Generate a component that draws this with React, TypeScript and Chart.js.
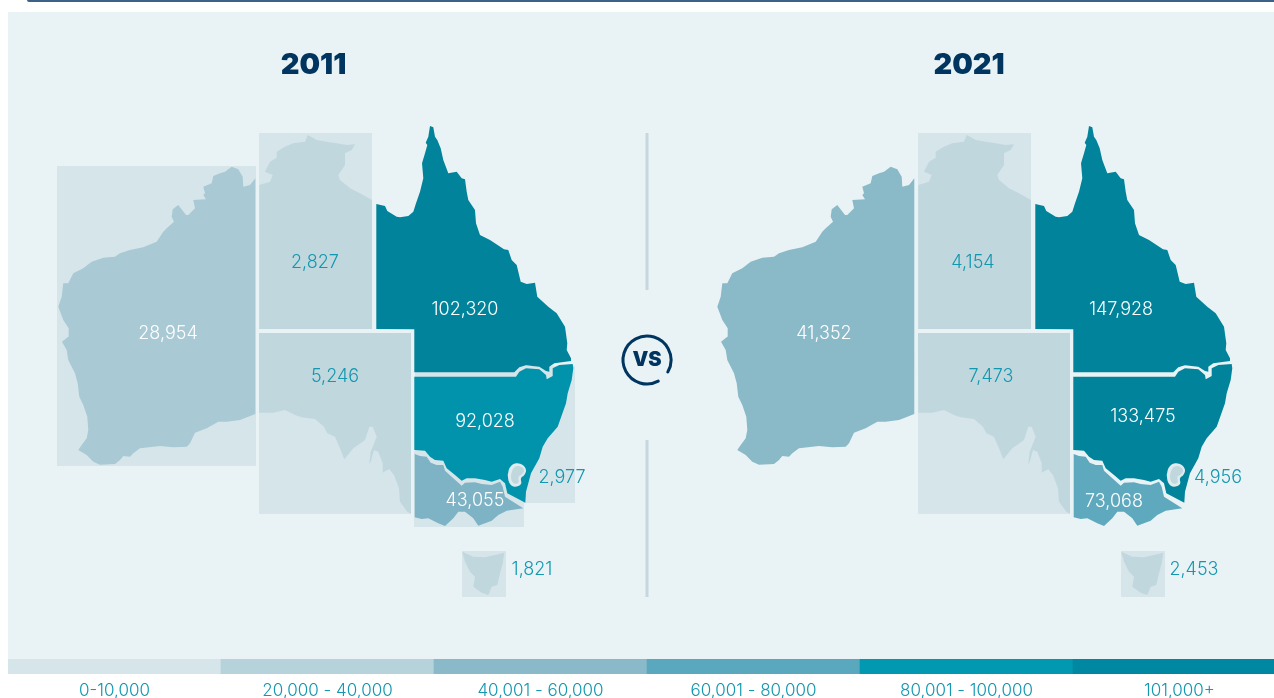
import React, { useEffect, useRef } from "react";
import { Chart, registerables } from "chart.js";

Chart.register(...registerables);

const states = ["WA", "NT", "QLD", "SA", "NSW", "VIC", "ACT", "TAS"];
const values2011 = [28954, 2827, 102320, 5246, 92028, 43055, 2977, 1821];
const values2021 = [41352, 4154, 147928, 7473, 133475, 73068, 4956, 2453];
const legendBins = ["0-10,000", "20,000 - 40,000", "40,001 - 60,000", "60,001 - 80,000", "80,001 - 100,000", "101,000+"];
const legendUnits = [1, 1, 1, 1, 1, 1];
const legendColors = ["#D5E5EA", "#B6D3DC", "#8ABACA", "#5AA8BE", "#0099B1", "#0088A3"];

type P = [number, number];
const waOutline: P[] = [[255.3,178.3],[255.3,414],[240,420],[226.7,421.7],[218.3,421.7],[206.7,428.3],[195,432.7],[190,443.3],[186.7,446.7],[173.3,447.3],[160,446],[140,448.3],[133.3,453.3],[130,456.7],[123.3,456],[120,460],[115,464],[100,464.7],[93.3,461.7],[86.7,455],[78.3,450],[81.7,445],[86.7,438.3],[88.3,430],[87.3,416.7],[83.3,405],[79.3,396.7],[77.7,383.3],[75,373.3],[68.3,360],[66.7,350],[62,341.7],[68.3,336.7],[68.7,328.3],[63.3,320],[58.3,306.7],[61.7,296.7],[63.3,283.3],[68.3,283.3],[73.3,273.3],[83.3,268.3],[91.7,261.7],[103.3,257.7],[115,256.7],[120,253.3],[130,250],[143.3,247.3],[156.7,241.7],[163.3,231.7],[166.7,228.3],[174,221.7],[171.7,216.7],[172.7,209.3],[178.3,205],[186,215],[188.3,215],[195,208.3],[193.3,200],[206,199.3],[203.3,195],[205,193.3],[203.3,186.7],[211.7,183.3],[213.3,176],[220,173.3],[225,171.7],[231.7,166.7],[238.3,169.3],[242.7,176.7],[243.3,186.7],[250,185],[255.3,178.3]];
const ntOutline: P[] = [[259.3,185],[270,181.7],[272.7,175],[265,171.7],[270,161.7],[276,158.3],[276.7,151.7],[285,146.7],[293.3,143.3],[305,141.7],[307.7,135],[316.7,140],[326.7,141.7],[336.7,143.3],[346.7,145],[355,144.3],[351.7,150],[345,153.3],[345,165],[338.3,175],[340,180],[350,188.3],[360,193.3],[372,200],[372,329],[259.3,329],[259.3,185]];
const qldOutline: P[] = [[376.3,204],[385,206],[387.3,211],[396.7,216.7],[400,217.3],[408.3,216],[413.3,211.7],[416,203.3],[420,191.7],[423.3,178.3],[422,163.3],[425,153.3],[427.3,145],[425.7,142.7],[428.3,136.7],[430,126],[433.3,127.3],[435,136.7],[437.3,140],[440.7,148.3],[443.3,160],[448.3,173.3],[456.7,171.7],[461.7,178.3],[465,179.3],[466.7,191.7],[468.3,200],[475,210],[476,223.3],[480,235],[490,240],[504,249.3],[508.3,250],[511.7,260],[516.7,265],[520.7,281.7],[526.7,284],[535,282.7],[537.3,296.7],[548.3,306.7],[556.7,313.3],[565,326.7],[567.3,343.3],[566.7,350],[571,358.3],[571,361],[554.3,363.3],[549.3,366.7],[549.3,371.7],[546,371],[539.3,366.7],[526,365.3],[519.3,367.3],[514.3,372.3],[414.3,372.3],[414.3,329.3],[376.3,329],[376.3,204]];
const saOutline: P[] = [[259,333],[411,333],[411,513.7],[407.3,511.7],[400,501.7],[399,488.3],[394,475],[389.3,469.3],[382.3,472.7],[382.7,463.3],[378.3,451.7],[374,450],[370.7,461.7],[369.3,464],[370.7,451.7],[376.7,436.7],[372.7,426.7],[369.3,426.7],[365,440],[353.3,448.3],[344.3,459.3],[340,448.3],[335,436.7],[327.3,433.3],[324,426.7],[315,419],[301.7,417.3],[295,415],[285,410],[273.3,412.7],[259.3,412.7],[259,333]];
const nswOutline: P[] = [[414.3,376.7],[516,376.7],[519.3,371.7],[526,368.3],[539.3,369.3],[546,375],[546.7,379.3],[552.7,376],[552.7,368.3],[559.3,365],[572.7,364],[573.3,368.3],[571.7,380],[567.7,393.3],[566,403.3],[557.7,426.7],[547.7,438.3],[542.7,446.7],[539.3,458.3],[531,473.3],[526,491.7],[525.3,502.7],[507.3,493.3],[505,483.3],[500,479],[491.7,481.7],[485,480],[475,478.3],[466.7,478.3],[461.7,480.7],[455,475],[446.7,468.3],[443.3,460.7],[435,460],[430,456.7],[425,450.7],[414.7,450],[414.3,376.7]];
const vicOutline: P[] = [[414.7,454],[420,456],[426.7,456.7],[430.7,462.7],[436.7,465],[443.3,465],[445,470.7],[453.3,478.3],[461.7,485.7],[465,482.7],[475,482.3],[481.7,484],[491.7,485],[500,481.7],[502.7,486.7],[505,496.7],[523.3,508.3],[518.3,509],[506.7,510.7],[498.3,515],[491.7,520.7],[478.3,525.7],[473.3,518.3],[465,511.7],[458.3,511.7],[453.3,518.3],[445,526],[438.3,523.3],[428.3,518.3],[421.7,519],[414.7,517.3],[414.7,454]];
const actHalo: P[] = [[507.7,475],[510,467.3],[516,463.3],[522.7,465],[526,470],[524.3,475],[521,478.3],[521,484],[514.3,486.7],[509.3,482.7],[507.7,475]];
const actOutline: P[] = [[511,475],[513.3,468.5],[517.5,466],[522.3,467.5],[524,471],[521.5,474.5],[518.5,477],[518.5,482.5],[514.3,483.5],[511.5,480],[511,475]];
const tasOutline: P[] = [[462.3,551.7],[473.3,556.7],[485,557.3],[495,555],[504.3,552.7],[502.7,563.3],[500,573.3],[497.3,585],[491.7,586.7],[488.3,595],[481.7,592.7],[473.3,586.7],[475,576.7],[470,571.7],[465,561.7],[462.3,551.7]];

const waBox: P[] = [[57,166],[256,166],[256,466],[57,466],[57,166]];
const ntBox: P[] = [[259,133],[372,133],[372,329],[259,329],[259,133]];
const saBox: P[] = [[259,333],[411,333],[411,514],[259,514],[259,333]];
const nswBox: P[] = [[415,366],[575,366],[575,503],[415,503],[415,366]];
const vicBox: P[] = [[414,451],[524,451],[524,527],[414,527],[414,451]];
const tasBox: P[] = [[462,551],[506,551],[506,597],[462,597],[462,551]];

const dividerTop: P[] = [[647,133],[647,290]];
const dividerBottom: P[] = [[647,440],[647,597]];

const PANEL = "#E9F3F5";
const BOX = "#D5E5EA";
const LOW = "#C1D7DE";
const HALO = "#DFEBEF";
const NAVY = "#003560";
const TEAL_TEXT = "#1297AF";
const LABEL_FONT = "300 18px Inter";

const colors2011: Record<string, string> = { WA: "#A9C9D4", NT: LOW, QLD: "#01849B", SA: LOW, NSW: "#0093AB", VIC: "#7EB2C5", ACT: LOW, TAS: LOW };
const colors2021: Record<string, string> = { WA: "#8AB9C8", NT: LOW, QLD: "#01849B", SA: LOW, NSW: "#01849B", VIC: "#5FA9BF", ACT: LOW, TAS: LOW };
const outlines: Record<string, P[]> = { WA: waOutline, NT: ntOutline, QLD: qldOutline, SA: saOutline, NSW: nswOutline, VIC: vicOutline, ACT: actOutline, TAS: tasOutline };

const labelAnchors2011: Record<string, P> = { WA: [168,333.5], NT: [315,262.5], QLD: [465,309.5], SA: [335,376.5], NSW: [485,421.5], VIC: [475,500.5], ACT: [562,477.5], TAS: [532,569.5] };
const labelAnchors2021: Record<string, P> = { WA: [165,333.5], NT: [314,262.5], QLD: [462,309.5], SA: [332,376.5], NSW: [484,416.5], VIC: [455,501.5], ACT: [559,477.5], TAS: [535,569.5] };
const lightText = ["WA", "QLD", "NSW", "VIC"];

const toPts = (o: P[]) => o.map(([x, y]) => ({ x, y }));
const shape = (label: string, o: P[], color: string, xAxisID: string, tension = 0) => ({
  type: "scatter" as const,
  label,
  data: toPts(o),
  xAxisID,
  yAxisID: "y",
  showLine: true,
  fill: "shape",
  tension,
  backgroundColor: color,
  borderColor: color,
  borderWidth: 0,
  pointRadius: 0,
  pointHoverRadius: 0,
});

const fmt = (n: number) => n.toLocaleString("en-US");

const mapText = {
  id: "mapText",
  afterDatasetsDraw(chart: any) {
    const { ctx, scales } = chart;
    const yS = scales.y;
    ctx.save();
    ctx.textAlign = "center";
    ctx.textBaseline = "middle";
    const panel = (axis: string, vals: number[], anchors: Record<string, P>, year: string, yearX: number) => {
      const xS = scales[axis];
      ctx.font = "900 29px Inter";
      ctx.fillStyle = NAVY;
      ctx.fillText(year, xS.getPixelForValue(yearX), yS.getPixelForValue(65));
      ctx.font = LABEL_FONT;
      states.forEach((s, i) => {
        const [ax, ay] = anchors[s];
        ctx.fillStyle = lightText.includes(s) ? "#FFFFFF" : TEAL_TEXT;
        ctx.fillText(fmt(vals[i]), xS.getPixelForValue(ax), yS.getPixelForValue(ay));
      });
    };
    panel("x", values2011, labelAnchors2011, "2011", 313.5);
    panel("x2", values2021, labelAnchors2021, "2021", 310);
    const cx = scales.x.getPixelForValue(647);
    const cy = yS.getPixelForValue(360);
    ctx.strokeStyle = NAVY;
    ctx.lineWidth = 3;
    ctx.lineCap = "round";
    ctx.beginPath();
    ctx.arc(cx, cy, 24, (62 * Math.PI) / 180, (30 * Math.PI) / 180 + 2 * Math.PI);
    ctx.stroke();
    ctx.fillStyle = NAVY;
    ctx.font = "900 20px Inter";
    ctx.fillText("VS", cx, cy);
    ctx.restore();
  },
};

export default function App() {
  const mapRef = useRef<HTMLCanvasElement>(null);
  const legendRef = useRef<HTMLCanvasElement>(null);

  useEffect(() => {
    const ds: any[] = [];
    ds.push(shape("2011 ACT", actOutline, colors2011.ACT, "x", 0.4));
    ds.push(shape("2021 ACT", actOutline, colors2021.ACT, "x2", 0.4));
    ds.push(shape("2011 ACT halo", actHalo, HALO, "x", 0.4));
    ds.push(shape("2021 ACT halo", actHalo, HALO, "x2", 0.4));
    ["TAS", "VIC", "NSW", "SA", "QLD", "NT", "WA"].forEach((s) => {
      ds.push(shape(`2011 ${s}`, outlines[s], colors2011[s], "x"));
      ds.push(shape(`2021 ${s}`, outlines[s], colors2021[s], "x2"));
    });
    [waBox, ntBox, saBox, vicBox, nswBox, tasBox].forEach((b, i) => ds.push(shape(`2011 box ${i}`, b, BOX, "x")));
    [ntBox, saBox, tasBox].forEach((b, i) => ds.push(shape(`2021 box ${i}`, b, BOX, "x2")));
    [dividerTop, dividerBottom].forEach((d, i) =>
      ds.push({ type: "scatter", label: `divider ${i}`, data: toPts(d), xAxisID: "x", yAxisID: "y", showLine: true, borderColor: "#C5D8DF", borderWidth: 3, pointRadius: 0 })
    );

    const map = new Chart(mapRef.current!, {
      type: "scatter",
      data: { datasets: ds },
      plugins: [mapText],
      options: {
        animation: false,
        responsive: false,
        layout: { padding: 0 },
        plugins: { legend: { display: false }, tooltip: { enabled: false }, title: { display: false } },
        scales: {
          x: { type: "linear", display: false, min: 0, max: 1274 },
          x2: { type: "linear", display: false, min: -659, max: 615 },
          y: { type: "linear", display: false, min: 0, max: 698, reverse: true },
        },
      },
    } as any);

    const legend = new Chart(legendRef.current!, {
      type: "bar",
      data: {
        labels: legendBins,
        datasets: [{ data: legendUnits, backgroundColor: legendColors, borderWidth: 0, barPercentage: 1, categoryPercentage: 1 }],
      },
      options: {
        animation: false,
        responsive: false,
        layout: { padding: 0 },
        plugins: { legend: { display: false }, tooltip: { enabled: false } },
        scales: {
          x: {
            grid: { display: false, drawTicks: false },
            border: { display: false },
            afterFit: (s: any) => { s.height = 24; },
            ticks: { color: TEAL_TEXT, font: { family: "Inter", weight: "300", size: 17 }, padding: 7, maxRotation: 0, autoSkip: false },
          },
          y: { display: false, min: 0, max: 1 },
        },
      },
    } as any);

    return () => { map.destroy(); legend.destroy(); };
  }, []);

  return (
    <div style={{ position: "fixed", left: 0, top: 0, width: 1274, height: 698, overflow: "hidden", background: "#FFFFFF" }}>
      <div style={{ position: "absolute", left: 27, top: 0, width: 1247, height: 2, background: "#3B6186", borderRadius: "0 0 0 3px" }} />
      <div style={{ position: "absolute", left: 8, top: 12, width: 1266, height: 647, background: PANEL }} />
      <canvas ref={mapRef} width={1274} height={698} style={{ position: "absolute", left: 0, top: 0, width: 1274, height: 698 }} />
      <canvas ref={legendRef} width={1278} height={39} style={{ position: "absolute", left: 8, top: 659, width: 1278, height: 39 }} />
    </div>
  );
}
